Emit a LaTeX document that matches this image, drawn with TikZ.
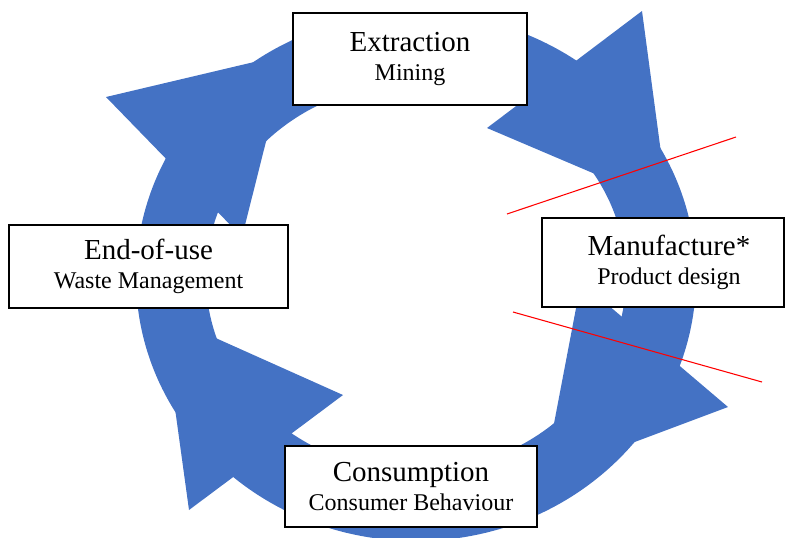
\documentclass[tikz,border=0pt]{standalone}
\usepackage{fontspec}
\setmainfont{Liberation Serif}
\definecolor{cycleblue}{RGB}{68,114,196}
\newcommand\stagetitle[1]{{\fontsize{21.75pt}{21.4pt}\selectfont #1}}
\begin{document}
\begin{tikzpicture}[x=0.75pt,y=-0.75pt,
  stage/.style={draw=black, line width=0.9pt, fill=white, align=center,
    inner sep=0pt, font=\fontsize{18pt}{21.4pt}\selectfont},
  arrowhead/.style={fill=cycleblue},
  cutline/.style={draw=red, line width=0.8pt}]
\useasboundingbox (0,0) rectangle (785,537);

% ring of the cycle
\coordinate (hub) at (416,277);
\fill[cycleblue, even odd rule]
  (hub) ellipse [x radius=210pt, y radius=198pt]
  (hub) ellipse [x radius=157.5pt, y radius=145.5pt];

% arrow heads, running clockwise
\fill[arrowhead] (642,11) -- (668,205) -- (487,128) -- cycle;
\fill[arrowhead] (728,407) -- (544,476) -- (581,282) -- cycle;
\fill[arrowhead] (189,510) -- (162,314) -- (343,395) -- cycle;
\fill[arrowhead] (106,97) -- (288,54) -- (242,237) -- cycle;

% cuts across the manufacturing stage
\draw[cutline] (507,214) -- (736,137);
\draw[cutline] (513,312) -- (762,382);

% stages
\node[stage, minimum width=175.5pt, minimum height=69pt] (extraction) at (410,59)
  {\stagetitle{Extraction}\\Mining};
\node[stage, minimum width=181.5pt, minimum height=66.75pt] (manufacture) at (663,262.5)
  {\hspace*{9pt}\stagetitle{Manufacture*}\\\hspace*{9pt}Product design};
\node[stage, minimum width=189pt, minimum height=60.75pt] (consumption) at (411,486.5)
  {\stagetitle{Consumption}\\Consumer Behaviour};
\node[stage, minimum width=209.25pt, minimum height=62.25pt] (endofuse) at (148.5,266.5)
  {\stagetitle{End-of-use}\\Waste Management};
\end{tikzpicture}
\end{document}
